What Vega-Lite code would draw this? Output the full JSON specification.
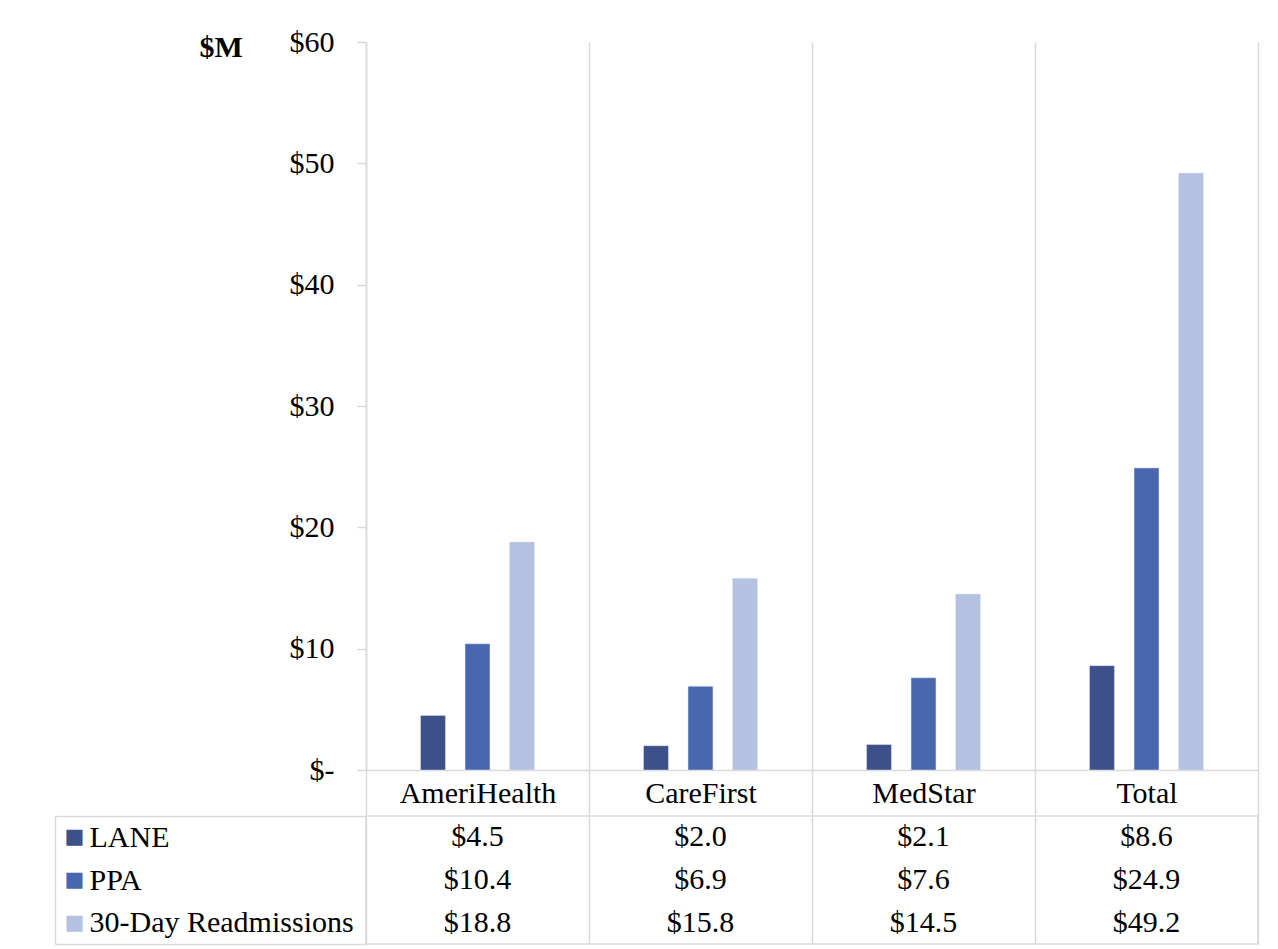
{
  "$schema": "https://vega.github.io/schema/vega-lite/v6.json",
  "padding": {"left": 53, "top": 27, "right": 10, "bottom": 4},
  "background": "white",
  "config": {"font": "Liberation Serif", "axis": {"maxExtent": 600, "minExtent": 0}},
  "datasets": {
    "payments": [
      {"payer": "AmeriHealth", "series": "LANE", "value": 4.5},
      {"payer": "AmeriHealth", "series": "PPA", "value": 10.4},
      {"payer": "AmeriHealth", "series": "30-Day Readmissions", "value": 18.8},
      {"payer": "CareFirst", "series": "LANE", "value": 2.0},
      {"payer": "CareFirst", "series": "PPA", "value": 6.9},
      {"payer": "CareFirst", "series": "30-Day Readmissions", "value": 15.8},
      {"payer": "MedStar", "series": "LANE", "value": 2.1},
      {"payer": "MedStar", "series": "PPA", "value": 7.6},
      {"payer": "MedStar", "series": "30-Day Readmissions", "value": 14.5},
      {"payer": "Total", "series": "LANE", "value": 8.6},
      {"payer": "Total", "series": "PPA", "value": 24.9},
      {"payer": "Total", "series": "30-Day Readmissions", "value": 49.2}
    ]
  },
  "data": {"name": "payments"},
  "spacing": -16,
  "vconcat": [
    {
      "width": 892,
      "height": 728,
      "view": {"stroke": null},
      "mark": {"type": "bar", "stroke": "#dfe5f2", "strokeWidth": 0.5},
      "encoding": {
        "x": {
          "field": "payer", "type": "nominal",
          "sort": ["AmeriHealth", "CareFirst", "MedStar", "Total"],
          "scale": {"paddingInner": 0, "paddingOuter": 0},
          "axis": {
            "title": null, "labelAngle": 0, "labelFontSize": 30, "labelColor": "#000",
            "labelBaseline": "alphabetic", "labelPadding": -13,
            "tickBand": "extent", "tickSize": 45, "tickColor": "#d9d9d9", "tickWidth": 1.5,
            "domainColor": "#d9d9d9", "domainWidth": 1.5,
            "grid": true, "gridColor": "#d9d9d9", "gridWidth": 1.5
          }
        },
        "xOffset": {
          "field": "series", "type": "nominal",
          "scale": {"domain": ["", "LANE", "PPA", "30-Day Readmissions", " "], "paddingInner": 0.44, "paddingOuter": 0.225}
        },
        "y": {
          "field": "value", "type": "quantitative",
          "scale": {"domain": [0, 60], "nice": false},
          "axis": {
            "values": [0, 10, 20, 30, 40, 50, 60],
            "labelExpr": "datum.value == 0 ? '$-' : '$' + datum.value",
            "labelFontSize": 30, "labelColor": "#000", "labelPadding": 23,
            "tickSize": 9, "tickColor": "#d9d9d9", "tickWidth": 1.5,
            "domainColor": "#d9d9d9", "domainWidth": 1.5, "grid": false,
            "title": "$M", "titleAngle": 0, "titleFontWeight": "bold", "titleFontSize": 30,
            "titleColor": "#000", "titleAlign": "left", "titleBaseline": "alphabetic",
            "titleX": -167, "titleY": 14
          }
        },
        "color": {
          "field": "series", "type": "nominal",
          "scale": {"domain": ["LANE", "PPA", "30-Day Readmissions"], "range": ["#3C5189", "#4967AE", "#B4C2E1"]},
          "legend": null
        }
      }
    },
    {
      "width": 892,
      "height": 128,
      "view": {"stroke": "#d9d9d9", "strokeWidth": 1.5},
      "resolve": {"scale": {"y": "independent"}, "axis": {"y": "independent"}},
      "layer": [
        {
          "mark": {"type": "text", "fontSize": 30, "font": "Liberation Serif", "color": "#000", "baseline": "middle"},
          "encoding": {
            "x": {
              "field": "payer", "type": "nominal",
              "sort": ["AmeriHealth", "CareFirst", "MedStar", "Total"],
              "scale": {"paddingInner": 0, "paddingOuter": 0},
              "axis": {"title": null, "labels": false, "ticks": false, "domain": false, "grid": true, "gridColor": "#d9d9d9", "gridWidth": 1.5, "tickBand": "extent"}
            },
            "y": {
              "field": "series", "type": "nominal",
              "sort": ["LANE", "PPA", "30-Day Readmissions"],
              "scale": {"paddingInner": 0, "paddingOuter": 0},
              "axis": {
                "orient": "left", "title": null, "domain": false, "grid": false,
                "labelAlign": "left", "labelBaseline": "middle", "labelFontSize": 30, "labelColor": "#000", "labelPadding": -34, "labelLimit": 500,
                "tickSize": 311, "tickBand": "extent", "tickWidth": 1.5,
                "tickColor": {"condition": {"test": "datum.value !== 'LANE' && datum.value !== 'PPA'", "value": "#d9d9d9"}, "value": "rgba(0,0,0,0)"}
              }
            },
            "text": {"field": "value", "type": "quantitative", "format": "$.1f"}
          }
        },
        {
          "mark": {"type": "rect", "opacity": 0},
          "encoding": {
            "x": {"field": "payer", "type": "nominal", "sort": ["AmeriHealth", "CareFirst", "MedStar", "Total"]},
            "y": {
              "field": "series", "type": "nominal",
              "sort": ["LANE", "PPA", "30-Day Readmissions"],
              "scale": {"paddingInner": 0, "paddingOuter": 0},
              "axis": {
                "orient": "left", "offset": 311, "title": null, "grid": false,
                "domain": true, "domainColor": "#d9d9d9", "domainWidth": 1.5,
                "ticks": false, "tickSize": 0,
                "labelExpr": "'■'", "labelFont": "DejaVu Sans", "labelFontSize": 21,
                "labelAlign": "left", "labelBaseline": "middle", "labelPadding": -9,
                "labelColor": {"condition": [{"test": "datum.value === 'LANE'", "value": "#3C5189"}, {"test": "datum.value === 'PPA'", "value": "#4967AE"}], "value": "#B4C2E1"}
              }
            }
          }
        }
      ]
    }
  ]
}
